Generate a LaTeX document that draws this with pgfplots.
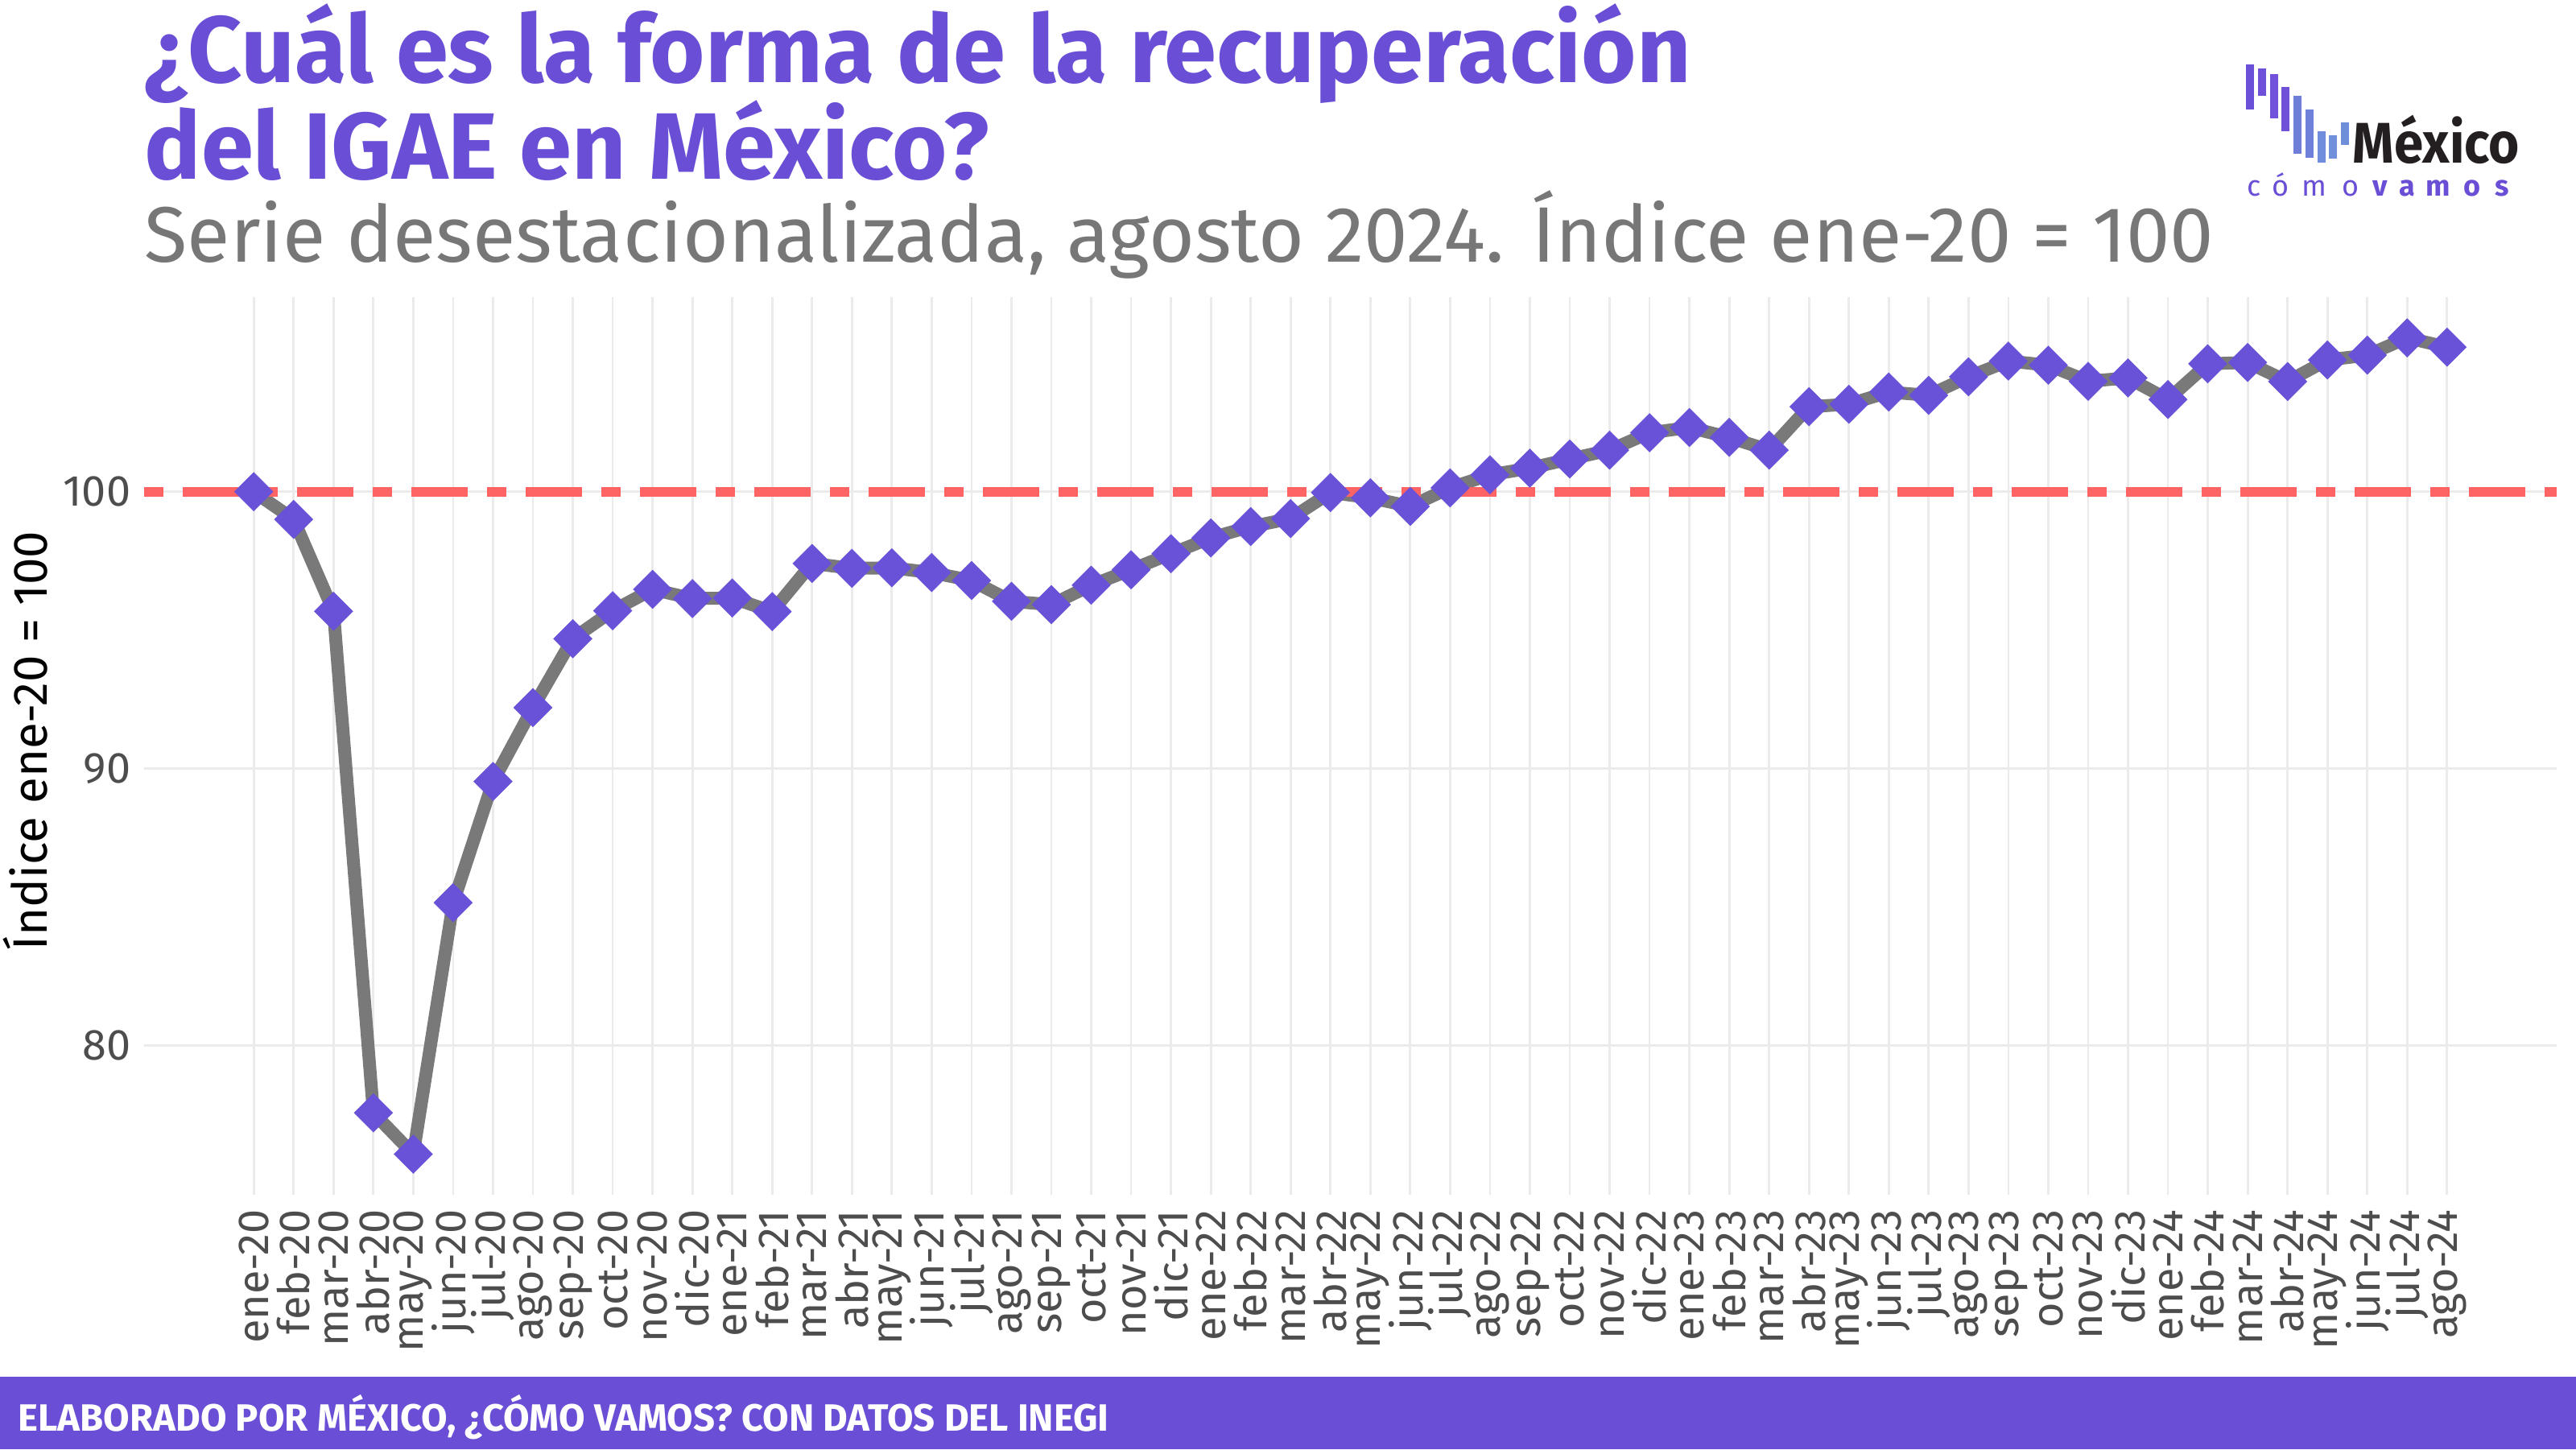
\documentclass[border=0pt]{standalone}
\usepackage{fontspec}
\setmainfont{Fira Sans}
\usepackage{pgfplots}
\pgfplotsset{compat=1.18}
\definecolor{mcvpurple}{HTML}{6A4FD6}
\definecolor{mkpurple}{HTML}{6A52D8}
\definecolor{linegray}{HTML}{797979}
\definecolor{refred}{HTML}{FF6464}
\definecolor{gridgray}{HTML}{EBEBEB}
\definecolor{subgray}{HTML}{777777}
\definecolor{tickgray}{HTML}{4D4D4D}
\pgfplotstableread{
x y
0 100.0
1 99.0
2 95.68
3 77.56
4 76.07
5 85.15
6 89.53
7 92.2
8 94.69
9 95.7
10 96.47
11 96.14
12 96.16
13 95.67
14 97.41
15 97.23
16 97.25
17 97.08
18 96.79
19 96.04
20 95.92
21 96.62
22 97.18
23 97.76
24 98.33
25 98.74
26 99.03
27 99.97
28 99.78
29 99.47
30 100.14
31 100.61
32 100.85
33 101.18
34 101.5
35 102.13
36 102.32
37 101.96
38 101.5
39 103.07
40 103.16
41 103.6
42 103.48
43 104.15
44 104.72
45 104.57
46 103.99
47 104.11
48 103.33
49 104.62
50 104.67
51 103.98
52 104.76
53 104.93
54 105.56
55 105.22
}\igae
\begin{document}
\begin{tikzpicture}
\fill[white] (0pt,0pt) rectangle (800pt,-450pt);
\begin{axis}[
  at={(44.75pt,-371pt)}, anchor=south west,
  width=749.25pt, height=278.75pt, scale only axis,
  xmin=-2.75, xmax=57.75, ymin=74.6, ymax=107.03,
  axis line style={draw=none}, major tick length=0pt,
  xtick={0,...,55},
  xticklabels={ene-20,feb-20,mar-20,abr-20,may-20,jun-20,jul-20,ago-20,sep-20,oct-20,nov-20,dic-20,
    ene-21,feb-21,mar-21,abr-21,may-21,jun-21,jul-21,ago-21,sep-21,oct-21,nov-21,dic-21,
    ene-22,feb-22,mar-22,abr-22,may-22,jun-22,jul-22,ago-22,sep-22,oct-22,nov-22,dic-22,
    ene-23,feb-23,mar-23,abr-23,may-23,jun-23,jul-23,ago-23,sep-23,oct-23,nov-23,dic-23,
    ene-24,feb-24,mar-24,abr-24,may-24,jun-24,jul-24,ago-24},
  ytick={80,90,100},
  /pgf/number format/assume math mode=true,
  grid=major, grid style={gridgray, line width=0.7pt},
  xticklabel style={rotate=90, anchor=east, inner sep=0pt, text=tickgray, font=\fontsize{13.5}{16}\selectfont},
  xticklabel shift=4.5pt,
  yticklabel style={anchor=east, inner sep=0pt, text=tickgray, font=\fontsize{13.5}{16}\selectfont},
  yticklabel shift=4pt,
]
\addplot[linegray, line width=4pt, line join=round, no markers] table[x=x,y=y] {\igae};
\addplot[refred, line width=3pt, dash pattern=on 6pt off 6pt on 17.5pt off 6pt, no markers] coordinates {(-2.75,100) (57.75,100)};
\addplot[only marks, mark=square*, mark size=4.24pt, mark options={rotate=45, fill=mkpurple, draw=mkpurple, line width=0.1pt}] table[x=x,y=y] {\igae};
\end{axis}
% titles
\node[anchor=base west, inner sep=0pt, text=mcvpurple, font=\fontsize{29.3}{31}\selectfont\bfseries] at (44.75pt,-25.5pt) {¿Cuál es la forma de la recuperación};
\node[anchor=base west, inner sep=0pt, text=mcvpurple, font=\fontsize{29.3}{31}\selectfont\bfseries] at (44.75pt,-55.5pt) {del IGAE en México?};
\node[anchor=base west, inner sep=0pt, text=subgray, font=\fontsize{24.4}{27}\selectfont] at (44.75pt,-81.25pt) {Serie desestacionalizada, agosto 2024. Índice ene-20 = 100};
% y axis title
\node[rotate=90, anchor=base, inner sep=0pt, font=\fontsize{15}{17}\selectfont] at (14.5pt,-230pt) {Índice ene-20 = 100};
% footer
\fill[mcvpurple] (0pt,-427.5pt) rectangle (800pt,-450pt);
\node[anchor=base west, inner sep=0pt, text=white, font=\fontsize{11.8}{13}\selectfont\bfseries] at (5.5pt,-444.25pt) {ELABORADO POR MÉXICO, ¿CÓMO VAMOS? CON DATOS DEL INEGI};
% logo
\fill[fill={rgb,255:red,106;green,79;blue,216}] (697.5pt,-20pt) rectangle (700pt,-34pt);
\fill[fill={rgb,255:red,110;green,80;blue,217}] (701.25pt,-21.25pt) rectangle (703.75pt,-29.75pt);
\fill[fill={rgb,255:red,114;green,82;blue,218}] (705pt,-23pt) rectangle (707.5pt,-36.75pt);
\fill[fill={rgb,255:red,112;green,82;blue,216}] (708.5pt,-27pt) rectangle (711pt,-40.75pt);
\fill[fill={rgb,255:red,110;green,125;blue,216}] (712.25pt,-29.75pt) rectangle (714.75pt,-47.75pt);
\fill[fill={rgb,255:red,111;green,128;blue,218}] (716pt,-34pt) rectangle (718.5pt,-49pt);
\fill[fill={rgb,255:red,111;green,141;blue,220}] (719.75pt,-40.75pt) rectangle (722.25pt,-50.5pt);
\fill[fill={rgb,255:red,112;green,144;blue,220}] (723.25pt,-42pt) rectangle (725.75pt,-49.25pt);
\fill[fill={rgb,255:red,110;green,142;blue,217}] (727pt,-38pt) rectangle (729.5pt,-45pt);
\node[anchor=base west, inner sep=0pt, xscale=0.92, text={rgb,255:red,35;green,31;blue,32}, font=\fontsize{17.8}{19}\selectfont\bfseries] at (730.5pt,-50.5pt) {México};
\foreach \ch/\xx in {c/700,ó/708.25,m/718.75,o/730}{
  \node[anchor=base, inner sep=0pt, text=mcvpurple, font=\fontsize{9}{11}\selectfont] at (\xx pt,-60.75pt) {\ch};
}
\foreach \ch/\xx in {v/739.25,a/747.5,m/757.25,o/767.75,s/777}{
  \node[anchor=base, inner sep=0pt, text=mcvpurple, font=\fontsize{9}{11}\selectfont\bfseries] at (\xx pt,-60.75pt) {\ch};
}
\pgfresetboundingbox
\useasboundingbox (0pt,0pt) rectangle (800pt,-450pt);
\end{tikzpicture}
\end{document}
